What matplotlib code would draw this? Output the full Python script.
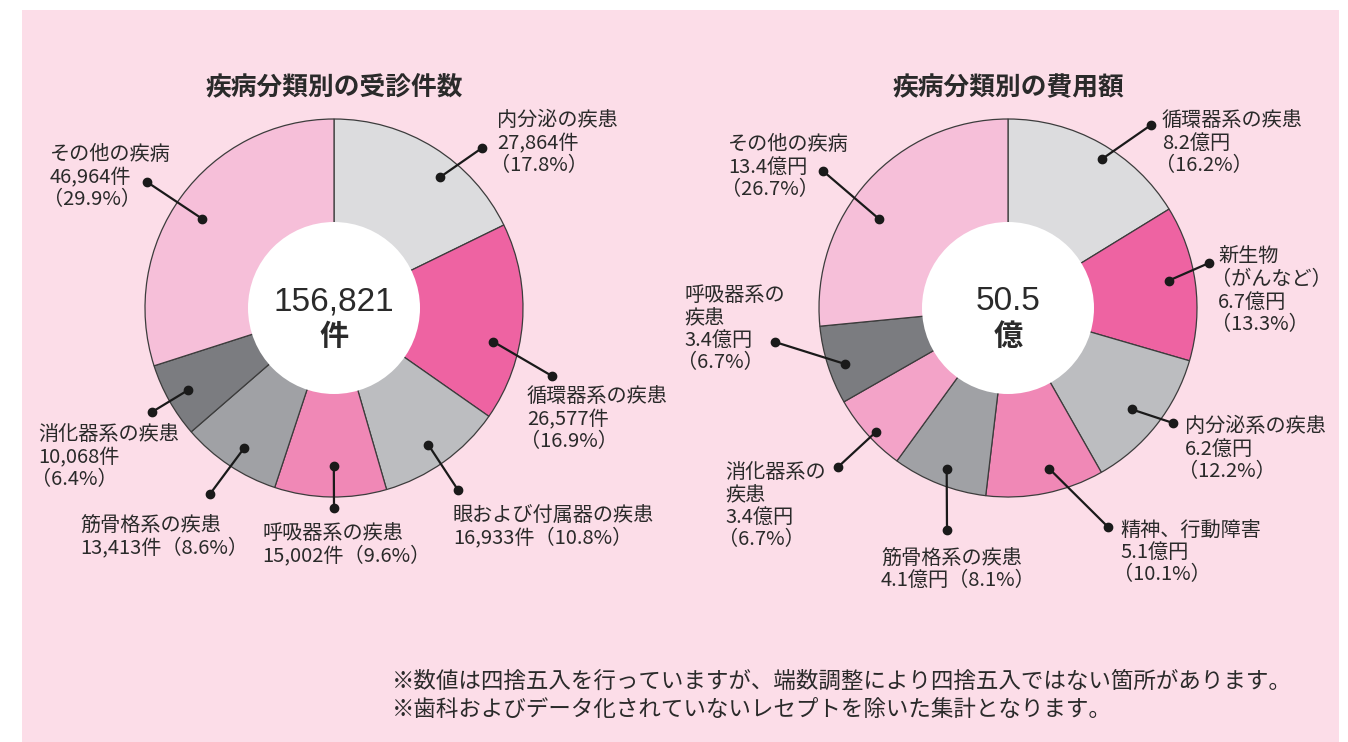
import matplotlib
matplotlib.use("Agg")
import numpy as np
import matplotlib.pyplot as plt
from matplotlib.patches import Circle, Rectangle

plt.rcParams['font.family'] = ['Noto Sans CJK JP', 'DejaVu Sans']

# --- data ---------------------------------------------------------------
count_title = '疾病分類別の受診件数'
count_names = ['内分泌の疾患', '循環器系の疾患', '眼および付属器の疾患', '呼吸器系の疾患',
               '筋骨格系の疾患', '消化器系の疾患', 'その他の疾病']
count_values = [27864, 26577, 16933, 15002, 13413, 10068, 46964]
count_pcts = [17.8, 16.9, 10.8, 9.6, 8.6, 6.4, 29.9]
count_total = '156,821\n件'

cost_title = '疾病分類別の費用額'
cost_names = ['循環器系の疾患', '新生物\n（がんなど）', '内分泌系の疾患', '精神、行動障害',
              '筋骨格系の疾患', '消化器系の\n疾患', '呼吸器系の\n疾患', 'その他の疾病']
cost_values = [8.2, 6.7, 6.2, 5.1, 4.1, 3.4, 3.4, 13.4]
cost_pcts = [16.2, 13.3, 12.2, 10.1, 8.1, 6.7, 6.7, 26.7]
cost_total = '50.5\n億'

notes = ['※数値は四捨五入を行っていますが、端数調整により四捨五入ではない箇所があります。',
         '※歯科およびデータ化されていないレセプトを除いた集計となります。']

# --- colours / layout ----------------------------------------------------
LGRAY, HOT, MGRAY, PINK, GRAY, DGRAY, LPINK, MPINK = (
    '#dcdcde', '#ee63a2', '#bcbdc0', '#f088b6', '#a0a1a5', '#7b7c80', '#f6bfd9', '#f3a3c8')
count_colors = [LGRAY, HOT, MGRAY, PINK, GRAY, DGRAY, LPINK]
cost_colors = [LGRAY, HOT, MGRAY, PINK, GRAY, MPINK, DGRAY, LPINK]

# label text block: (left x, first line centre y, value+pct on one line?) in pixels
count_layout = [(497, 121, False), (527, 397, False), (453, 515, True), (262, 533, True),
                (80, 525, True), (38, 435, False), (50, 155, False)]
count_outer = [(482, 148), (552, 376), (458, 490), (334, 508), (210, 494), (152, 412), (147, 182)]
# inner dot: angle nudge from slice middle (deg), distance from centre (px)
count_nudge = [(-7, 168), (-7.5, 163), (-1, 166), (1, 158), (1, 166), (0, 168), (2, 159)]

cost_layout = [(1162, 121, False), (1218, 257, False), (1185, 427, False), (1120, 530, False),
               (881, 558, True), (725, 472, False), (684, 295, False), (728, 145, False)]
cost_outer = [(1151, 125), (1209, 263), (1173, 423), (1108, 527), (947, 530), (838, 467),
              (775, 342), (823, 171)]
cost_nudge = [(-3, 176), (2, 163), (-1, 160), (3, 166), (0.5, 172), (1.3, 181), (1.4, 172),
              (7.6, 157)]

W, H = 1348, 742
R, R_IN = 189, 86
TXT = '#2a2a2a'
LINE_H = 22.5

fig = plt.figure(figsize=(W / 100, H / 100), dpi=100)
fig.patch.set_facecolor('white')
ax = fig.add_axes([0, 0, 1, 1])
ax.add_patch(Rectangle((22, 0), 1317, H - 10, facecolor='#fcdde8', edgecolor='none', zorder=0))


def fy(y):
    return H - y


def draw_pie(cx, cy, title, names, values, pcts, colors, layout, outer, nudge, unit, total):
    ax.pie(values, colors=colors, startangle=90, counterclock=False,
           center=(cx, fy(cy)), radius=R,
           wedgeprops=dict(edgecolor='#3c3c3c', linewidth=0.9))
    ax.add_patch(Circle((cx, fy(cy)), R_IN, facecolor='white', edgecolor='none', zorder=5))
    ax.text(cx, fy(88), title, ha='center', va='center', fontsize=18.5,
            fontweight='bold', color=TXT)
    big, small = total.split('\n')
    ax.text(cx, fy(cy - 6), big, ha='center', va='center', fontsize=24, color=TXT, zorder=6,
            family=['Liberation Sans', 'Noto Sans CJK JP'])
    ax.text(cx, fy(cy + 28), small, ha='center', va='center', fontsize=21, color=TXT,
            zorder=6, fontweight='bold')

    frac = np.cumsum(values) / np.sum(values)
    start = np.concatenate([[0], frac[:-1]])
    for i, name in enumerate(names):
        da, dist = nudge[i]
        mid = 90 - (start[i] + frac[i]) / 2 * 360 + da
        ix = cx + dist * np.cos(np.radians(mid))
        iy = fy(cy) + dist * np.sin(np.radians(mid))
        ox, oy = outer[i]
        ax.plot([ix, ox], [iy, fy(oy)], color='#1a1a1a', lw=1.6, zorder=7,
                marker='o', markersize=6, solid_capstyle='round')

        v = values[i]
        vtxt = f'{v:,}件' if unit == '件' else f'{v}億円'
        lx, ly, oneline = layout[i]
        lines = name.split('\n')
        if oneline:
            lines.append(f'{vtxt}（{pcts[i]}%）')
        else:
            lines += [vtxt, f'（{pcts[i]}%）']
        for k, line in enumerate(lines):
            dx = -7 if line.startswith('（') else 0
            ax.text(lx + dx, fy(ly + k * LINE_H), line, ha='left', va='center',
                    fontsize=14.5, color=TXT, zorder=8)


draw_pie(334, 308, count_title, count_names, count_values, count_pcts, count_colors,
         count_layout, count_outer, count_nudge, '件', count_total)
draw_pie(1008, 308, cost_title, cost_names, cost_values, cost_pcts, cost_colors,
         cost_layout, cost_outer, cost_nudge, '億円', cost_total)

for k, note in enumerate(notes):
    ax.text(392, fy(681 + k * 29), note, ha='left', va='center', fontsize=16.2, color=TXT)

ax.set_xlim(0, W)
ax.set_ylim(0, H)
ax.set_aspect('auto')
ax.axis('off')

fig.savefig('out.png', dpi=100, facecolor=fig.get_facecolor())
